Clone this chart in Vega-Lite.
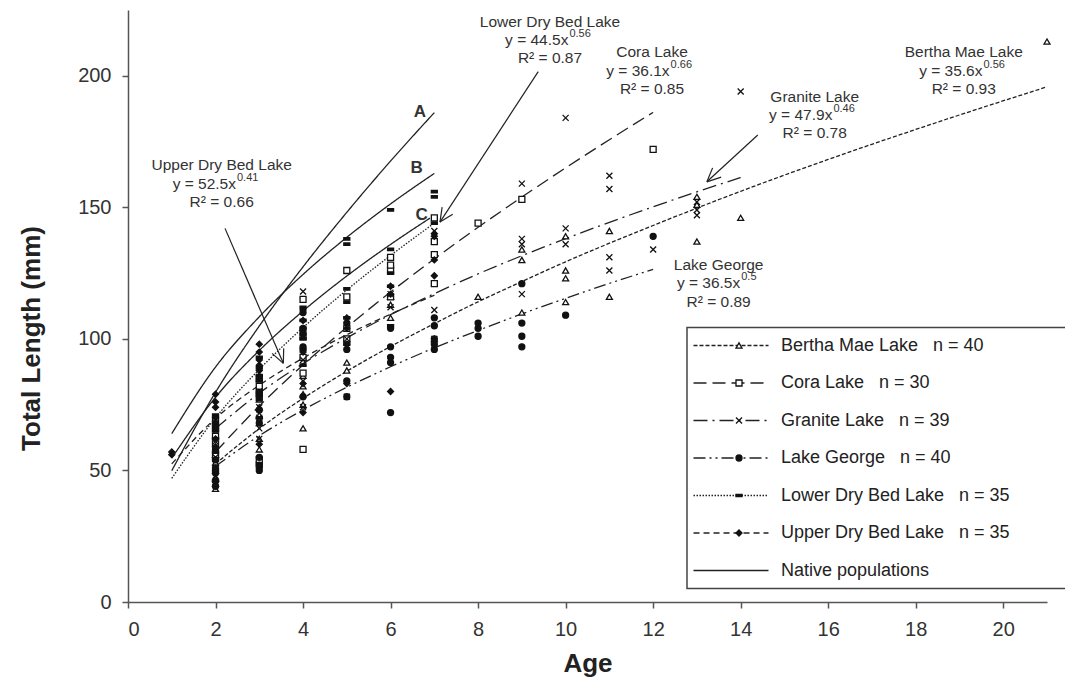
{
  "$schema": "https://vega.github.io/schema/vega-lite/v6.json",
  "width": 919,
  "height": 592,
  "autosize": {"type": "none"},
  "padding": {"left": 128, "top": 10, "right": 18, "bottom": 89},
  "background": "white",
  "config": {
    "view": {"stroke": null},
    "font": "Liberation Sans",
    "legend": {"strokeWidth": 1.5},
    "axis": {"grid": false, "domainColor": "#555", "tickColor": "#555", "domainWidth": 1.5, "tickWidth": 1.5, "labelColor": "#333", "titleColor": "#222", "labelFont": "Liberation Sans", "titleFont": "Liberation Sans"}
  },
  "datasets": {
    "curves": [
      {"g":"Bertha Mae Lake\u00a0\u00a0\u00a0n = 40","c":"BM","a":2,"t":52.5},{"g":"Bertha Mae Lake\u00a0\u00a0\u00a0n = 40","c":"BM","a":3,"t":65.9},{"g":"Bertha Mae Lake\u00a0\u00a0\u00a0n = 40","c":"BM","a":4,"t":77.4},{"g":"Bertha Mae Lake\u00a0\u00a0\u00a0n = 40","c":"BM","a":5,"t":87.7},{"g":"Bertha Mae Lake\u00a0\u00a0\u00a0n = 40","c":"BM","a":6,"t":97.1},{"g":"Bertha Mae Lake\u00a0\u00a0\u00a0n = 40","c":"BM","a":7,"t":105.8},{"g":"Bertha Mae Lake\u00a0\u00a0\u00a0n = 40","c":"BM","a":8,"t":114.1},{"g":"Bertha Mae Lake\u00a0\u00a0\u00a0n = 40","c":"BM","a":9,"t":121.8},{"g":"Bertha Mae Lake\u00a0\u00a0\u00a0n = 40","c":"BM","a":10,"t":129.3},{"g":"Bertha Mae Lake\u00a0\u00a0\u00a0n = 40","c":"BM","a":12,"t":143.1},{"g":"Bertha Mae Lake\u00a0\u00a0\u00a0n = 40","c":"BM","a":14,"t":156.1},{"g":"Bertha Mae Lake\u00a0\u00a0\u00a0n = 40","c":"BM","a":16,"t":168.2},{"g":"Bertha Mae Lake\u00a0\u00a0\u00a0n = 40","c":"BM","a":18,"t":179.6},{"g":"Bertha Mae Lake\u00a0\u00a0\u00a0n = 40","c":"BM","a":21,"t":195.8},
      {"g":"Cora Lake\u00a0\u00a0\u00a0n = 30","c":"CO","a":2,"t":57.0},{"g":"Cora Lake\u00a0\u00a0\u00a0n = 30","c":"CO","a":3,"t":74.5},{"g":"Cora Lake\u00a0\u00a0\u00a0n = 30","c":"CO","a":4,"t":90.1},{"g":"Cora Lake\u00a0\u00a0\u00a0n = 30","c":"CO","a":5,"t":104.4},{"g":"Cora Lake\u00a0\u00a0\u00a0n = 30","c":"CO","a":6,"t":117.8},{"g":"Cora Lake\u00a0\u00a0\u00a0n = 30","c":"CO","a":7,"t":130.4},{"g":"Cora Lake\u00a0\u00a0\u00a0n = 30","c":"CO","a":8,"t":142.4},{"g":"Cora Lake\u00a0\u00a0\u00a0n = 30","c":"CO","a":9,"t":153.9},{"g":"Cora Lake\u00a0\u00a0\u00a0n = 30","c":"CO","a":10,"t":165.0},{"g":"Cora Lake\u00a0\u00a0\u00a0n = 30","c":"CO","a":11,"t":175.7},{"g":"Cora Lake\u00a0\u00a0\u00a0n = 30","c":"CO","a":12,"t":186.1},
      {"g":"Granite Lake\u00a0\u00a0\u00a0n = 39","c":"GR","a":2,"t":65.9},{"g":"Granite Lake\u00a0\u00a0\u00a0n = 39","c":"GR","a":3,"t":79.4},{"g":"Granite Lake\u00a0\u00a0\u00a0n = 39","c":"GR","a":4,"t":90.6},{"g":"Granite Lake\u00a0\u00a0\u00a0n = 39","c":"GR","a":5,"t":100.4},{"g":"Granite Lake\u00a0\u00a0\u00a0n = 39","c":"GR","a":6,"t":109.2},{"g":"Granite Lake\u00a0\u00a0\u00a0n = 39","c":"GR","a":7,"t":117.2},{"g":"Granite Lake\u00a0\u00a0\u00a0n = 39","c":"GR","a":8,"t":124.7},{"g":"Granite Lake\u00a0\u00a0\u00a0n = 39","c":"GR","a":9,"t":131.6},{"g":"Granite Lake\u00a0\u00a0\u00a0n = 39","c":"GR","a":10,"t":138.1},{"g":"Granite Lake\u00a0\u00a0\u00a0n = 39","c":"GR","a":11,"t":144.3},{"g":"Granite Lake\u00a0\u00a0\u00a0n = 39","c":"GR","a":12,"t":150.2},{"g":"Granite Lake\u00a0\u00a0\u00a0n = 39","c":"GR","a":13,"t":155.9},{"g":"Granite Lake\u00a0\u00a0\u00a0n = 39","c":"GR","a":14,"t":161.3},
      {"g":"Lake George\u00a0\u00a0\u00a0n = 40","c":"LG","a":2,"t":51.6},{"g":"Lake George\u00a0\u00a0\u00a0n = 40","c":"LG","a":3,"t":63.2},{"g":"Lake George\u00a0\u00a0\u00a0n = 40","c":"LG","a":4,"t":73.0},{"g":"Lake George\u00a0\u00a0\u00a0n = 40","c":"LG","a":5,"t":81.6},{"g":"Lake George\u00a0\u00a0\u00a0n = 40","c":"LG","a":6,"t":89.4},{"g":"Lake George\u00a0\u00a0\u00a0n = 40","c":"LG","a":7,"t":96.6},{"g":"Lake George\u00a0\u00a0\u00a0n = 40","c":"LG","a":8,"t":103.2},{"g":"Lake George\u00a0\u00a0\u00a0n = 40","c":"LG","a":9,"t":109.5},{"g":"Lake George\u00a0\u00a0\u00a0n = 40","c":"LG","a":10,"t":115.4},{"g":"Lake George\u00a0\u00a0\u00a0n = 40","c":"LG","a":11,"t":121.1},{"g":"Lake George\u00a0\u00a0\u00a0n = 40","c":"LG","a":12,"t":126.4},
      {"g":"Lower Dry Bed Lake\u00a0\u00a0\u00a0n = 35","c":"LD","a":1,"t":47},{"g":"Lower Dry Bed Lake\u00a0\u00a0\u00a0n = 35","c":"LD","a":2,"t":70},{"g":"Lower Dry Bed Lake\u00a0\u00a0\u00a0n = 35","c":"LD","a":3,"t":88.4},{"g":"Lower Dry Bed Lake\u00a0\u00a0\u00a0n = 35","c":"LD","a":4,"t":104.3},{"g":"Lower Dry Bed Lake\u00a0\u00a0\u00a0n = 35","c":"LD","a":5,"t":118.6},{"g":"Lower Dry Bed Lake\u00a0\u00a0\u00a0n = 35","c":"LD","a":6,"t":131.7},{"g":"Lower Dry Bed Lake\u00a0\u00a0\u00a0n = 35","c":"LD","a":7,"t":144},
      {"g":"Upper Dry Bed Lake\u00a0\u00a0\u00a0n = 35","c":"UD","a":1,"t":52.5},{"g":"Upper Dry Bed Lake\u00a0\u00a0\u00a0n = 35","c":"UD","a":2,"t":69.8},{"g":"Upper Dry Bed Lake\u00a0\u00a0\u00a0n = 35","c":"UD","a":3,"t":82.4},{"g":"Upper Dry Bed Lake\u00a0\u00a0\u00a0n = 35","c":"UD","a":4,"t":92.7},{"g":"Upper Dry Bed Lake\u00a0\u00a0\u00a0n = 35","c":"UD","a":5,"t":101.6},{"g":"Upper Dry Bed Lake\u00a0\u00a0\u00a0n = 35","c":"UD","a":6,"t":109.4},{"g":"Upper Dry Bed Lake\u00a0\u00a0\u00a0n = 35","c":"UD","a":7,"t":116.6},
      {"g":"Native populations\u00a0\u00a0\u00a0\u00a0\u00a0\u00a0\u00a0\u00a0\u00a0\u00a0\u00a0\u00a0\u00a0\u00a0\u00a0\u00a0\u00a0\u00a0\u00a0\u00a0\u00a0\u00a0\u00a0\u00a0\u00a0\u00a0\u00a0\u00a0\u2800","c":"A","a":1,"t":49.9},{"g":"Native populations\u00a0\u00a0\u00a0\u00a0\u00a0\u00a0\u00a0\u00a0\u00a0\u00a0\u00a0\u00a0\u00a0\u00a0\u00a0\u00a0\u00a0\u00a0\u00a0\u00a0\u00a0\u00a0\u00a0\u00a0\u00a0\u00a0\u00a0\u00a0\u2800","c":"A","a":2,"t":79.7},{"g":"Native populations\u00a0\u00a0\u00a0\u00a0\u00a0\u00a0\u00a0\u00a0\u00a0\u00a0\u00a0\u00a0\u00a0\u00a0\u00a0\u00a0\u00a0\u00a0\u00a0\u00a0\u00a0\u00a0\u00a0\u00a0\u00a0\u00a0\u00a0\u00a0\u2800","c":"A","a":3,"t":104.9},{"g":"Native populations\u00a0\u00a0\u00a0\u00a0\u00a0\u00a0\u00a0\u00a0\u00a0\u00a0\u00a0\u00a0\u00a0\u00a0\u00a0\u00a0\u00a0\u00a0\u00a0\u00a0\u00a0\u00a0\u00a0\u00a0\u00a0\u00a0\u00a0\u00a0\u2800","c":"A","a":4,"t":127.4},{"g":"Native populations\u00a0\u00a0\u00a0\u00a0\u00a0\u00a0\u00a0\u00a0\u00a0\u00a0\u00a0\u00a0\u00a0\u00a0\u00a0\u00a0\u00a0\u00a0\u00a0\u00a0\u00a0\u00a0\u00a0\u00a0\u00a0\u00a0\u00a0\u00a0\u2800","c":"A","a":5,"t":148.1},{"g":"Native populations\u00a0\u00a0\u00a0\u00a0\u00a0\u00a0\u00a0\u00a0\u00a0\u00a0\u00a0\u00a0\u00a0\u00a0\u00a0\u00a0\u00a0\u00a0\u00a0\u00a0\u00a0\u00a0\u00a0\u00a0\u00a0\u00a0\u00a0\u00a0\u2800","c":"A","a":6,"t":167.6},{"g":"Native populations\u00a0\u00a0\u00a0\u00a0\u00a0\u00a0\u00a0\u00a0\u00a0\u00a0\u00a0\u00a0\u00a0\u00a0\u00a0\u00a0\u00a0\u00a0\u00a0\u00a0\u00a0\u00a0\u00a0\u00a0\u00a0\u00a0\u00a0\u00a0\u2800","c":"A","a":7,"t":186.0},
      {"g":"Native populations\u00a0\u00a0\u00a0\u00a0\u00a0\u00a0\u00a0\u00a0\u00a0\u00a0\u00a0\u00a0\u00a0\u00a0\u00a0\u00a0\u00a0\u00a0\u00a0\u00a0\u00a0\u00a0\u00a0\u00a0\u00a0\u00a0\u00a0\u00a0\u2800","c":"B","a":1,"t":64},{"g":"Native populations\u00a0\u00a0\u00a0\u00a0\u00a0\u00a0\u00a0\u00a0\u00a0\u00a0\u00a0\u00a0\u00a0\u00a0\u00a0\u00a0\u00a0\u00a0\u00a0\u00a0\u00a0\u00a0\u00a0\u00a0\u00a0\u00a0\u00a0\u00a0\u2800","c":"B","a":2,"t":89.3},{"g":"Native populations\u00a0\u00a0\u00a0\u00a0\u00a0\u00a0\u00a0\u00a0\u00a0\u00a0\u00a0\u00a0\u00a0\u00a0\u00a0\u00a0\u00a0\u00a0\u00a0\u00a0\u00a0\u00a0\u00a0\u00a0\u00a0\u00a0\u00a0\u00a0\u2800","c":"B","a":3,"t":108.4},{"g":"Native populations\u00a0\u00a0\u00a0\u00a0\u00a0\u00a0\u00a0\u00a0\u00a0\u00a0\u00a0\u00a0\u00a0\u00a0\u00a0\u00a0\u00a0\u00a0\u00a0\u00a0\u00a0\u00a0\u00a0\u00a0\u00a0\u00a0\u00a0\u00a0\u2800","c":"B","a":4,"t":124.5},{"g":"Native populations\u00a0\u00a0\u00a0\u00a0\u00a0\u00a0\u00a0\u00a0\u00a0\u00a0\u00a0\u00a0\u00a0\u00a0\u00a0\u00a0\u00a0\u00a0\u00a0\u00a0\u00a0\u00a0\u00a0\u00a0\u00a0\u00a0\u00a0\u00a0\u2800","c":"B","a":5,"t":138.6},{"g":"Native populations\u00a0\u00a0\u00a0\u00a0\u00a0\u00a0\u00a0\u00a0\u00a0\u00a0\u00a0\u00a0\u00a0\u00a0\u00a0\u00a0\u00a0\u00a0\u00a0\u00a0\u00a0\u00a0\u00a0\u00a0\u00a0\u00a0\u00a0\u00a0\u2800","c":"B","a":6,"t":151.3},{"g":"Native populations\u00a0\u00a0\u00a0\u00a0\u00a0\u00a0\u00a0\u00a0\u00a0\u00a0\u00a0\u00a0\u00a0\u00a0\u00a0\u00a0\u00a0\u00a0\u00a0\u00a0\u00a0\u00a0\u00a0\u00a0\u00a0\u00a0\u00a0\u00a0\u2800","c":"B","a":7,"t":162.9},
      {"g":"Native populations\u00a0\u00a0\u00a0\u00a0\u00a0\u00a0\u00a0\u00a0\u00a0\u00a0\u00a0\u00a0\u00a0\u00a0\u00a0\u00a0\u00a0\u00a0\u00a0\u00a0\u00a0\u00a0\u00a0\u00a0\u00a0\u00a0\u00a0\u00a0\u2800","c":"C","a":1,"t":54.7},{"g":"Native populations\u00a0\u00a0\u00a0\u00a0\u00a0\u00a0\u00a0\u00a0\u00a0\u00a0\u00a0\u00a0\u00a0\u00a0\u00a0\u00a0\u00a0\u00a0\u00a0\u00a0\u00a0\u00a0\u00a0\u00a0\u00a0\u00a0\u00a0\u00a0\u2800","c":"C","a":2,"t":77.8},{"g":"Native populations\u00a0\u00a0\u00a0\u00a0\u00a0\u00a0\u00a0\u00a0\u00a0\u00a0\u00a0\u00a0\u00a0\u00a0\u00a0\u00a0\u00a0\u00a0\u00a0\u00a0\u00a0\u00a0\u00a0\u00a0\u00a0\u00a0\u00a0\u00a0\u2800","c":"C","a":3,"t":95.6},{"g":"Native populations\u00a0\u00a0\u00a0\u00a0\u00a0\u00a0\u00a0\u00a0\u00a0\u00a0\u00a0\u00a0\u00a0\u00a0\u00a0\u00a0\u00a0\u00a0\u00a0\u00a0\u00a0\u00a0\u00a0\u00a0\u00a0\u00a0\u00a0\u00a0\u2800","c":"C","a":4,"t":110.6},{"g":"Native populations\u00a0\u00a0\u00a0\u00a0\u00a0\u00a0\u00a0\u00a0\u00a0\u00a0\u00a0\u00a0\u00a0\u00a0\u00a0\u00a0\u00a0\u00a0\u00a0\u00a0\u00a0\u00a0\u00a0\u00a0\u00a0\u00a0\u00a0\u00a0\u2800","c":"C","a":5,"t":123.9},{"g":"Native populations\u00a0\u00a0\u00a0\u00a0\u00a0\u00a0\u00a0\u00a0\u00a0\u00a0\u00a0\u00a0\u00a0\u00a0\u00a0\u00a0\u00a0\u00a0\u00a0\u00a0\u00a0\u00a0\u00a0\u00a0\u00a0\u00a0\u00a0\u00a0\u2800","c":"C","a":6,"t":135.9},{"g":"Native populations\u00a0\u00a0\u00a0\u00a0\u00a0\u00a0\u00a0\u00a0\u00a0\u00a0\u00a0\u00a0\u00a0\u00a0\u00a0\u00a0\u00a0\u00a0\u00a0\u00a0\u00a0\u00a0\u00a0\u00a0\u00a0\u00a0\u00a0\u00a0\u2800","c":"C","a":6.9,"t":145.9}
    ],
    "pts": [
      {"l":"BM","a":2,"t":43},{"l":"BM","a":2,"t":45},{"l":"BM","a":2,"t":47},{"l":"BM","a":2,"t":50},{"l":"BM","a":2,"t":53},{"l":"BM","a":2,"t":56},
      {"l":"BM","a":3,"t":58},{"l":"BM","a":3,"t":62},{"l":"BM","a":3,"t":68},{"l":"BM","a":3,"t":71},{"l":"BM","a":3,"t":74},{"l":"BM","a":3,"t":77},
      {"l":"BM","a":4,"t":66},{"l":"BM","a":4,"t":75},{"l":"BM","a":4,"t":79},{"l":"BM","a":4,"t":82},{"l":"BM","a":4,"t":86},{"l":"BM","a":4,"t":93},
      {"l":"BM","a":5,"t":88},{"l":"BM","a":5,"t":91},{"l":"BM","a":5,"t":100},
      {"l":"BM","a":6,"t":108},{"l":"BM","a":6,"t":113},{"l":"BM","a":6,"t":116},
      {"l":"BM","a":7,"t":100},{"l":"BM","a":8,"t":116},
      {"l":"BM","a":9,"t":110},{"l":"BM","a":9,"t":130},{"l":"BM","a":9,"t":134},
      {"l":"BM","a":10,"t":114},{"l":"BM","a":10,"t":123},{"l":"BM","a":10,"t":126},{"l":"BM","a":10,"t":139},
      {"l":"BM","a":11,"t":116},{"l":"BM","a":11,"t":141},
      {"l":"BM","a":13,"t":137},{"l":"BM","a":13,"t":151},{"l":"BM","a":13,"t":154},
      {"l":"BM","a":14,"t":146},{"l":"BM","a":21,"t":213},
      {"l":"CO","a":2,"t":56},{"l":"CO","a":2,"t":60},{"l":"CO","a":2,"t":63},{"l":"CO","a":2,"t":66},{"l":"CO","a":2,"t":69},
      {"l":"CO","a":3,"t":52},{"l":"CO","a":3,"t":54},{"l":"CO","a":3,"t":79},{"l":"CO","a":3,"t":82},{"l":"CO","a":3,"t":85},
      {"l":"CO","a":4,"t":58},{"l":"CO","a":4,"t":87},{"l":"CO","a":4,"t":93},{"l":"CO","a":4,"t":101},{"l":"CO","a":4,"t":115},
      {"l":"CO","a":5,"t":100},{"l":"CO","a":5,"t":104},{"l":"CO","a":5,"t":116},{"l":"CO","a":5,"t":126},
      {"l":"CO","a":6,"t":116},{"l":"CO","a":6,"t":126},{"l":"CO","a":6,"t":128},{"l":"CO","a":6,"t":131},
      {"l":"CO","a":7,"t":121},{"l":"CO","a":7,"t":132},{"l":"CO","a":7,"t":137},{"l":"CO","a":7,"t":146},
      {"l":"CO","a":8,"t":144},{"l":"CO","a":9,"t":153},{"l":"CO","a":12,"t":172},
      {"l":"GR","a":2,"t":48},{"l":"GR","a":2,"t":51},{"l":"GR","a":2,"t":55},{"l":"GR","a":2,"t":58},{"l":"GR","a":2,"t":61},{"l":"GR","a":2,"t":68},
      {"l":"GR","a":3,"t":62},{"l":"GR","a":3,"t":66},{"l":"GR","a":3,"t":70},{"l":"GR","a":3,"t":74},{"l":"GR","a":3,"t":80},{"l":"GR","a":3,"t":87},
      {"l":"GR","a":4,"t":74},{"l":"GR","a":4,"t":84},{"l":"GR","a":4,"t":92},{"l":"GR","a":4,"t":118},
      {"l":"GR","a":5,"t":78},{"l":"GR","a":5,"t":100},
      {"l":"GR","a":6,"t":112},{"l":"GR","a":6,"t":117},
      {"l":"GR","a":7,"t":100},{"l":"GR","a":7,"t":111},{"l":"GR","a":7,"t":141},
      {"l":"GR","a":9,"t":117},{"l":"GR","a":9,"t":136},{"l":"GR","a":9,"t":138},{"l":"GR","a":9,"t":159},
      {"l":"GR","a":10,"t":136},{"l":"GR","a":10,"t":142},{"l":"GR","a":10,"t":184},
      {"l":"GR","a":11,"t":126},{"l":"GR","a":11,"t":131},{"l":"GR","a":11,"t":157},{"l":"GR","a":11,"t":162},
      {"l":"GR","a":12,"t":134},
      {"l":"GR","a":13,"t":147},{"l":"GR","a":13,"t":149},{"l":"GR","a":13,"t":152},
      {"l":"GR","a":14,"t":194},
      {"l":"LG","a":2,"t":44},{"l":"LG","a":2,"t":46},{"l":"LG","a":2,"t":49},{"l":"LG","a":2,"t":51},{"l":"LG","a":2,"t":54},{"l":"LG","a":2,"t":58},
      {"l":"LG","a":3,"t":50},{"l":"LG","a":3,"t":52},{"l":"LG","a":3,"t":55},{"l":"LG","a":3,"t":68},{"l":"LG","a":3,"t":73},{"l":"LG","a":3,"t":79},
      {"l":"LG","a":4,"t":78},{"l":"LG","a":4,"t":97},{"l":"LG","a":4,"t":102},{"l":"LG","a":4,"t":104},{"l":"LG","a":4,"t":110},
      {"l":"LG","a":5,"t":78},{"l":"LG","a":5,"t":84},{"l":"LG","a":5,"t":96},{"l":"LG","a":5,"t":106},
      {"l":"LG","a":6,"t":72},{"l":"LG","a":6,"t":91},{"l":"LG","a":6,"t":93},{"l":"LG","a":6,"t":97},{"l":"LG","a":6,"t":104},
      {"l":"LG","a":7,"t":96},{"l":"LG","a":7,"t":98},{"l":"LG","a":7,"t":100},{"l":"LG","a":7,"t":105},{"l":"LG","a":7,"t":108},
      {"l":"LG","a":8,"t":101},{"l":"LG","a":8,"t":104},{"l":"LG","a":8,"t":106},
      {"l":"LG","a":9,"t":97},{"l":"LG","a":9,"t":101},{"l":"LG","a":9,"t":106},{"l":"LG","a":9,"t":121},
      {"l":"LG","a":10,"t":109},{"l":"LG","a":12,"t":139},
      {"l":"LD","a":2,"t":46},{"l":"LD","a":2,"t":50},{"l":"LD","a":2,"t":54},{"l":"LD","a":2,"t":57},{"l":"LD","a":2,"t":62},{"l":"LD","a":2,"t":65},{"l":"LD","a":2,"t":67},{"l":"LD","a":2,"t":71},
      {"l":"LD","a":3,"t":70},{"l":"LD","a":3,"t":77},{"l":"LD","a":3,"t":80},{"l":"LD","a":3,"t":84},{"l":"LD","a":3,"t":86},{"l":"LD","a":3,"t":89},{"l":"LD","a":3,"t":93},
      {"l":"LD","a":4,"t":90},{"l":"LD","a":4,"t":96},{"l":"LD","a":4,"t":100},{"l":"LD","a":4,"t":104},{"l":"LD","a":4,"t":107},{"l":"LD","a":4,"t":112},
      {"l":"LD","a":5,"t":98},{"l":"LD","a":5,"t":108},{"l":"LD","a":5,"t":114},{"l":"LD","a":5,"t":119},{"l":"LD","a":5,"t":136},{"l":"LD","a":5,"t":138},
      {"l":"LD","a":6,"t":105},{"l":"LD","a":6,"t":120},{"l":"LD","a":6,"t":125},{"l":"LD","a":6,"t":134},{"l":"LD","a":6,"t":149},
      {"l":"LD","a":7,"t":144},{"l":"LD","a":7,"t":154},{"l":"LD","a":7,"t":156},
      {"l":"UD","a":1,"t":56},{"l":"UD","a":1,"t":57},
      {"l":"UD","a":2,"t":59},{"l":"UD","a":2,"t":62},{"l":"UD","a":2,"t":66},{"l":"UD","a":2,"t":68},{"l":"UD","a":2,"t":70},{"l":"UD","a":2,"t":74},{"l":"UD","a":2,"t":76},{"l":"UD","a":2,"t":79},
      {"l":"UD","a":3,"t":60},{"l":"UD","a":3,"t":78},{"l":"UD","a":3,"t":85},{"l":"UD","a":3,"t":88},{"l":"UD","a":3,"t":90},{"l":"UD","a":3,"t":92},{"l":"UD","a":3,"t":95},{"l":"UD","a":3,"t":98},
      {"l":"UD","a":4,"t":72},{"l":"UD","a":4,"t":83},{"l":"UD","a":4,"t":95},{"l":"UD","a":4,"t":103},{"l":"UD","a":4,"t":107},{"l":"UD","a":4,"t":111},
      {"l":"UD","a":5,"t":83},{"l":"UD","a":5,"t":98},{"l":"UD","a":5,"t":104},{"l":"UD","a":5,"t":108},
      {"l":"UD","a":6,"t":80},{"l":"UD","a":6,"t":117},{"l":"UD","a":6,"t":120},
      {"l":"UD","a":7,"t":124},{"l":"UD","a":7,"t":130},{"l":"UD","a":7,"t":139},{"l":"UD","a":7,"t":140}
    ],
    "arrows": [
      {"a":2.217,"t":142.0,"a2":3.549,"t2":90.7},{"a":3.549,"t":90.7,"a2":3.558,"t2":96.4},{"a":3.549,"t":90.7,"a2":3.293,"t2":94.5},
      {"a":9.374,"t":201.6,"a2":7.129,"t2":144.4},{"a":7.129,"t":144.4,"a2":7.420,"t2":147.4},{"a":7.129,"t":144.4,"a2":7.178,"t2":150.1},
      {"a":14.391,"t":177.5,"a2":13.228,"t2":159.7},{"a":13.228,"t":159.7,"a2":13.555,"t2":161.5},{"a":13.228,"t":159.7,"a2":13.359,"t2":165.0}
    ],
    "labels": [
      {"txt":"Upper Dry Bed Lake","a":2.141,"t":166.0},{"txt":"R² = 0.66","a":2.141,"t":152.0},
      {"txt":"Lower Dry Bed Lake","a":9.643,"t":220.6},{"txt":"R² = 0.87","a":9.643,"t":206.7},
      {"txt":"Cora Lake","a":11.974,"t":208.9},{"txt":"R² = 0.85","a":11.974,"t":194.9},
      {"txt":"Granite Lake","a":15.692,"t":192.1},{"txt":"R² = 0.78","a":15.692,"t":178.1},
      {"txt":"Bertha Mae Lake","a":19.097,"t":208.9},{"txt":"R² = 0.93","a":19.097,"t":194.9},
      {"txt":"Lake George","a":13.496,"t":128.1},{"txt":"R² = 0.89","a":13.496,"t":114.1}
    ],
    "eqs": [
      {"txt":"y = 52.5x","e":"0.41","a":2.468,"t":158.9},
      {"txt":"y = 44.5x","e":"0.56","a":10.064,"t":213.6},
      {"txt":"y = 36.1x","e":"0.66","a":12.376,"t":201.8},
      {"txt":"y = 47.9x","e":"0.46","a":16.096,"t":185.1},
      {"txt":"y = 35.6x","e":"0.56","a":19.526,"t":201.8},
      {"txt":"y = 36.5x","e":"0.5","a":13.99,"t":121.1}
    ],
    "abc": [
      {"txt":"A","a":6.672,"t":186.4},{"txt":"B","a":6.597,"t":164.8},{"txt":"C","a":6.711,"t":147.1}
    ]
  },
  "layer": [
    {
      "data": {"name": "curves"},
      "mark": {"type": "line", "interpolate": "monotone", "stroke": "#222", "strokeWidth": 1.3},
      "encoding": {
        "x": {"field": "a", "type": "quantitative", "scale": {"domain": [0, 21], "nice": false, "zero": false},
              "axis": {"title": "Age", "values": [0,2,4,6,8,10,12,14,16,18,20], "labelFontSize": 20, "tickSize": 6, "labelPadding": 11, "titleFontSize": 26, "titleFontWeight": "bold", "titleBaseline": "middle", "titleY": 61}},
        "y": {"field": "t", "type": "quantitative", "scale": {"domain": [0, 225], "nice": false},
              "axis": {"title": "Total Length (mm)", "values": [0,50,100,150,200], "labelFontSize": 20, "tickSize": 6, "labelPadding": 11, "titleFontSize": 26, "titleFontWeight": "bold", "titleX": -84, "titleY": 328}},
        "strokeDash": {"field": "g", "type": "nominal",
          "scale": {"domain": ["Bertha Mae Lake\u00a0\u00a0\u00a0n = 40", "Cora Lake\u00a0\u00a0\u00a0n = 30", "Granite Lake\u00a0\u00a0\u00a0n = 39", "Lake George\u00a0\u00a0\u00a0n = 40", "Lower Dry Bed Lake\u00a0\u00a0\u00a0n = 35", "Upper Dry Bed Lake\u00a0\u00a0\u00a0n = 35", "Native populations\u00a0\u00a0\u00a0\u00a0\u00a0\u00a0\u00a0\u00a0\u00a0\u00a0\u00a0\u00a0\u00a0\u00a0\u00a0\u00a0\u00a0\u00a0\u00a0\u00a0\u00a0\u00a0\u00a0\u00a0\u00a0\u00a0\u00a0\u00a0\u2800"],
                    "range": [[4,2],[13,6],[14,5,2,5],[12,4,2,4,2,4],[1.5,1.5],[6,4],[1,0]]},
          "legend": {"title": null, "orient": "none", "legendX": 559, "legendY": 317.5, "symbolType": "M-1.533,0L8.467,0", "symbolSize": 225, "symbolStrokeWidth": 1.3, "symbolStrokeColor": "#222", "labelFontSize": 18, "labelColor": "#222", "labelFont": "Liberation Sans", "rowPadding": 19.5, "padding": 9, "strokeColor": "#444", "labelOffset": 67, "labelLimit": 800, "zindex": 0}},
        "detail": {"field": "c"}
      }
    },
    {
      "data": {"name": "pts"},
      "mark": {"type": "point", "filled": true, "strokeWidth": 1.3, "opacity": 1},
      "encoding": {
        "x": {"field": "a", "type": "quantitative"},
        "y": {"field": "t", "type": "quantitative"},
        "shape": {"field": "l", "type": "nominal",
          "scale": {"domain": ["BM","CO","GR","LG","LD","UD"],
                    "range": ["triangle-up", "square", "M-1,-1L1,1M1,-1L-1,1", "circle", "M-1,-0.4L1,-0.4L1,0.4L-1,0.4Z", "diamond"]},
          "legend": {"title": null, "orient": "none", "legendX": 593, "legendY": 317.5, "padding": 9, "rowPadding": 19.5, "labelFontSize": 18, "labelExpr": "'\u00a0'", "symbolStrokeWidth": 1.3, "symbolSize": 36, "labelOffset": 0, "zindex": 1}},
        "fill": {"field": "l", "type": "nominal",
          "scale": {"domain": ["BM","CO","GR","LG","LD","UD"], "range": ["white","white","white","#111","#111","#111"]},
          "legend": {"title": null, "orient": "none", "legendX": 593, "legendY": 317.5, "padding": 9, "rowPadding": 19.5, "labelFontSize": 18, "labelExpr": "'\u00a0'", "symbolStrokeWidth": 1.3, "symbolSize": 36, "labelOffset": 0, "zindex": 1}},
        "stroke": {"field": "l", "type": "nominal",
          "scale": {"domain": ["BM","CO","GR","LG","LD","UD"], "range": ["#111","#111","#111","#111","#111","#111"]},
          "legend": {"title": null, "orient": "none", "legendX": 593, "legendY": 317.5, "padding": 9, "rowPadding": 19.5, "labelFontSize": 18, "labelExpr": "'\u00a0'", "symbolStrokeWidth": 1.3, "symbolSize": 36, "labelOffset": 0, "zindex": 1}},
        "size": {"value": 36}
      }
    },
    {
      "data": {"name": "arrows"},
      "mark": {"type": "rule", "stroke": "#222", "strokeWidth": 1.2},
      "encoding": {
        "x": {"field": "a", "type": "quantitative"},
        "y": {"field": "t", "type": "quantitative"},
        "x2": {"field": "a2"},
        "y2": {"field": "t2"}
      }
    },
    {
      "data": {"name": "labels"},
      "mark": {"type": "text", "fontSize": 15.5, "color": "#333", "align": "center", "baseline": "middle", "font": "Liberation Sans"},
      "encoding": {
        "x": {"field": "a", "type": "quantitative"},
        "y": {"field": "t", "type": "quantitative"},
        "text": {"field": "txt"}
      }
    },
    {
      "data": {"name": "eqs"},
      "mark": {"type": "text", "fontSize": 15.5, "color": "#333", "align": "right", "baseline": "middle", "font": "Liberation Sans"},
      "encoding": {
        "x": {"field": "a", "type": "quantitative"},
        "y": {"field": "t", "type": "quantitative"},
        "text": {"field": "txt"}
      }
    },
    {
      "data": {"name": "eqs"},
      "mark": {"type": "text", "fontSize": 11, "color": "#333", "align": "left", "baseline": "middle", "dx": 1, "dy": -6, "font": "Liberation Sans"},
      "encoding": {
        "x": {"field": "a", "type": "quantitative"},
        "y": {"field": "t", "type": "quantitative"},
        "text": {"field": "e"}
      }
    },
    {
      "data": {"name": "abc"},
      "mark": {"type": "text", "fontSize": 17, "fontWeight": "bold", "color": "#333", "align": "center", "baseline": "middle", "font": "Liberation Sans"},
      "encoding": {
        "x": {"field": "a", "type": "quantitative"},
        "y": {"field": "t", "type": "quantitative"},
        "text": {"field": "txt"}
      }
    }
  ]
}
